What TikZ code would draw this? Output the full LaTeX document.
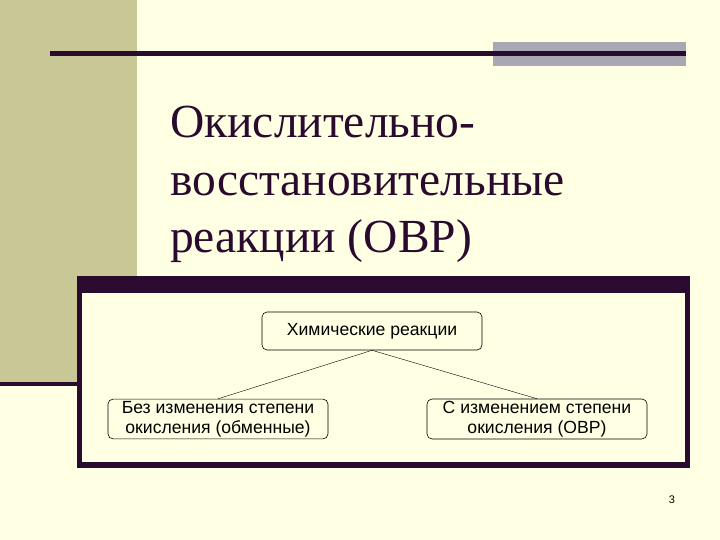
\documentclass[tikz,border=0pt]{standalone}
\usepackage{fontspec}
\setmainfont{Liberation Serif}
\setsansfont{Liberation Sans}
\usetikzlibrary{positioning}

\definecolor{bgcream}{HTML}{FFFFE3}
\definecolor{olive}{HTML}{C8C896}
\definecolor{plum}{HTML}{2A0A2E}
\definecolor{slate}{HTML}{A8A8B4}

\tikzset{
  rbox/.style={draw=black, line width=0.6pt, rounded corners=5pt, fill=bgcream,
    minimum width=220pt, minimum height=38pt, inner sep=2pt, align=center,
    font=\sffamily\fontsize{17.6}{20}\selectfont},
  titletext/.style={anchor=base west, inner sep=0pt, text=plum,
    font=\fontsize{47.5}{57}\selectfont},
}

\begin{document}
\begin{tikzpicture}[x=1pt,y=-1pt]
\fill[bgcream] (0,0) rectangle (720,540);
\useasboundingbox (0,0) rectangle (720,540);
% slide decoration
\fill[olive] (0,0) rectangle (137,382);
\fill[plum] (0,382) rectangle (80,386);
\fill[slate] (493,42) rectangle (686,66);
\draw[plum, line width=5pt] (50,54) -- (686,54);

% title
\node[titletext] (t1) at (170,138) {Окислительно-};
\node[titletext] (t2) at (170,196) {восстановительные};
\node[titletext] (t3) at (170,252) {реакции (ОВР)};

% frame
\fill[plum] (77,276) rectangle (690,468);
\fill[bgcream] (82,293) rectangle (685,462);

\node[rbox] (reac) at (372,331) {Химические реакции};
\node[rbox] (keep) at (218,419) {Без изменения степени\\окисления (обменные)};
\node[rbox] (change) at (537,419) {С изменением степени\\окисления (ОВР)};
\path [-] (reac.south) edge (keep.north);
\path [-] (reac.south) edge (change.north);

\node[font=\sffamily\fontsize{11}{13}\selectfont] (num) at (672,500) {3};
\end{tikzpicture}
\end{document}
